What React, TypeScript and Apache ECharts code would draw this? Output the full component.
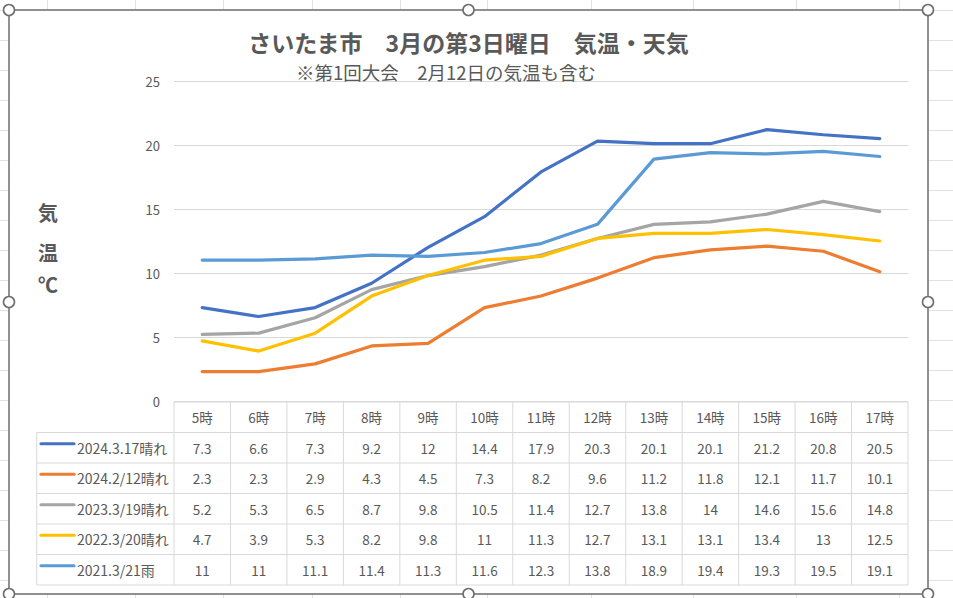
import React, { useEffect, useRef } from "react";
import * as echarts from "echarts";

const categories = ["5時", "6時", "7時", "8時", "9時", "10時", "11時", "12時", "13時", "14時", "15時", "16時", "17時"];
const seriesNames = ["2024.3.17晴れ", "2024.2/12晴れ", "2023.3/19晴れ", "2022.3/20晴れ", "2021.3/21雨"];
const temps20240317 = [7.3, 6.6, 7.3, 9.2, 12, 14.4, 17.9, 20.3, 20.1, 20.1, 21.2, 20.8, 20.5];
const temps20240212 = [2.3, 2.3, 2.9, 4.3, 4.5, 7.3, 8.2, 9.6, 11.2, 11.8, 12.1, 11.7, 10.1];
const temps20230319 = [5.2, 5.3, 6.5, 8.7, 9.8, 10.5, 11.4, 12.7, 13.8, 14, 14.6, 15.6, 14.8];
const temps20220320 = [4.7, 3.9, 5.3, 8.2, 9.8, 11, 11.3, 12.7, 13.1, 13.1, 13.4, 13, 12.5];
const temps20210321 = [11, 11, 11.1, 11.4, 11.3, 11.6, 12.3, 13.8, 18.9, 19.4, 19.3, 19.5, 19.1];
const seriesValues = [temps20240317, temps20240212, temps20230319, temps20220320, temps20210321];
const seriesColors = ["#4472C4", "#ED7D31", "#A5A5A5", "#FFC000", "#5B9BD5"];
const yMin = 0;
const yMax = 25;
const yInterval = 5;
const titleText = "さいたま市　3月の第3日曜日　気温・天気";
const subtitleText = "※第1回大会　2月12日の気温も含む";
const yAxisNameChars = ["気", "温", "℃"];

const FONT = "'Noto Sans CJK JP', 'Noto Sans', sans-serif";
const TXT = "#595959";
const W = 953;
const H = 598;

export default function App() {
  const ref = useRef<HTMLDivElement>(null);
  useEffect(() => {
    if (!ref.current) return;
    const chart = echarts.init(ref.current, undefined, { renderer: "svg", width: W, height: H });

    const chartL = 9, chartT = 10, chartR = 928, chartB = 594;
    const sheetCols = [47, 135, 223, 312, 400, 487, 591, 693, 796, 899];

    const bg: any[] = [];
    for (let y = 10; y < H; y += 30) {
      bg.push({ type: "line", z: -20, silent: true, shape: { x1: 0, y1: y + 0.5, x2: W, y2: y + 0.5 }, style: { stroke: "#e2e2e2", lineWidth: 1 } });
    }
    sheetCols.forEach((x) => {
      bg.push({ type: "line", z: -20, silent: true, shape: { x1: x + 0.5, y1: 0, x2: x + 0.5, y2: H }, style: { stroke: "#e2e2e2", lineWidth: 1 } });
    });
    bg.push({ type: "rect", z: -15, silent: true, shape: { x: chartL, y: chartT, width: chartR - chartL, height: chartB - chartT }, style: { fill: "#ffffff", stroke: "#6e6e6e", lineWidth: 1.5 } });
    const midX = (chartL + chartR) / 2;
    const midY = (chartT + chartB) / 2;
    [
      [chartL, chartT], [midX, chartT], [chartR, chartT],
      [chartL, midY], [chartR, midY],
      [chartL, chartB], [midX, chartB], [chartR, chartB],
    ].forEach(([cx, cy]) => {
      bg.push({ type: "circle", z: 100, silent: true, shape: { cx, cy, r: 5.5 }, style: { fill: "#ffffff", stroke: "#6e6e6e", lineWidth: 1.6 } });
    });
    bg.push({ type: "text", z: 50, x: midX, y: 42, style: { text: titleText, fill: TXT, font: `bold 23px ${FONT}`, textAlign: "center", textVerticalAlign: "middle" } });
    bg.push({ type: "text", z: 50, x: 446, y: 72, style: { text: subtitleText, fill: TXT, font: `18.5px ${FONT}`, textAlign: "center", textVerticalAlign: "middle" } });
    const nameYs = [212, 252, 284];
    yAxisNameChars.forEach((ch, i) => {
      bg.push({ type: "text", z: 50, x: 48, y: nameYs[i], style: { text: ch, fill: TXT, font: `bold 20px ${FONT}`, textAlign: "center", textVerticalAlign: "middle" } });
    });

    const option: any = {
      animation: false,
      backgroundColor: "transparent",
      textStyle: { fontFamily: FONT },
      grid: { left: 174, right: W - 908, top: 81, bottom: H - 401, containLabel: false },
      xAxis: {
        type: "category",
        data: categories,
        boundaryGap: true,
        axisLine: { show: false },
        axisTick: { show: false },
        axisLabel: { show: false },
        splitLine: { show: false },
      },
      yAxis: {
        type: "value",
        min: yMin,
        max: yMax,
        interval: yInterval,
        axisLine: { show: false },
        axisTick: { show: false },
        axisLabel: { color: TXT, fontSize: 13, margin: 14, fontFamily: FONT },
        splitLine: { lineStyle: { color: "#d9d9d9", width: 1 } },
      },
      series: seriesNames.map((name, i) => ({
        name,
        type: "line",
        data: seriesValues[i],
        symbol: "none",
        smooth: false,
        lineStyle: { color: seriesColors[i], width: 3.2, cap: "round", join: "round" },
        itemStyle: { color: seriesColors[i] },
        z: 3 + i,
      })),
      graphic: bg,
    };
    chart.setOption(option);

    const centers = categories.map((_, i) => chart.convertToPixel({ xAxisIndex: 0 }, i) as number);
    const colW = centers[1] - centers[0];
    const y0 = chart.convertToPixel({ yAxisIndex: 0 }, yMin) as number;
    const tableTop = y0 + 1;
    const headerH = 30.5;
    const rowH = 30.5;
    const leftX = centers[0] - colW / 2;
    const rightX = centers[centers.length - 1] + colW / 2;
    const labelLeft = 36.7;
    const bottomY = tableTop + headerH + rowH * seriesNames.length;
    const gridColor = "#d9d9d9";
    const tbl: any[] = [];
    const ln = (x1: number, y1: number, x2: number, y2: number) =>
      tbl.push({ type: "line", z: 20, silent: true, shape: { x1, y1, x2, y2 }, style: { stroke: gridColor, lineWidth: 1 } });

    ln(leftX, tableTop, rightX, tableTop);
    for (let r = 0; r <= seriesNames.length; r++) {
      const y = tableTop + headerH + r * rowH;
      ln(labelLeft, y, rightX, y);
    }
    for (let c = 0; c <= categories.length; c++) {
      const x = leftX + c * colW;
      ln(x, tableTop, x, bottomY);
    }
    ln(labelLeft, tableTop + headerH, labelLeft, bottomY);

    categories.forEach((cat, c) => {
      tbl.push({ type: "text", z: 21, x: centers[c], y: tableTop + headerH / 2, style: { text: cat, fill: TXT, font: `13.5px ${FONT}`, textAlign: "center", textVerticalAlign: "middle" } });
    });
    seriesNames.forEach((name, r) => {
      const cy = tableTop + headerH + r * rowH + rowH / 2;
      tbl.push({ type: "line", z: 21, silent: true, shape: { x1: 41, y1: cy - 4, x2: 74, y2: cy - 4 }, style: { stroke: seriesColors[r], lineWidth: 3.2, lineCap: "round" } });
      tbl.push({ type: "text", z: 21, x: 77, y: cy, style: { text: name, fill: TXT, font: `14px ${FONT}`, textAlign: "left", textVerticalAlign: "middle" } });
      seriesValues[r].forEach((v, c) => {
        tbl.push({ type: "text", z: 21, x: centers[c], y: cy, style: { text: String(v), fill: TXT, font: `13.5px ${FONT}`, textAlign: "center", textVerticalAlign: "middle" } });
      });
    });

    chart.setOption({ graphic: [...bg, ...tbl] });

    return () => chart.dispose();
  }, []);

  return (
    <div
      ref={ref}
      style={{ position: "absolute", left: 0, top: 0, width: W, height: H, background: "#ffffff" }}
    />
  );
}
